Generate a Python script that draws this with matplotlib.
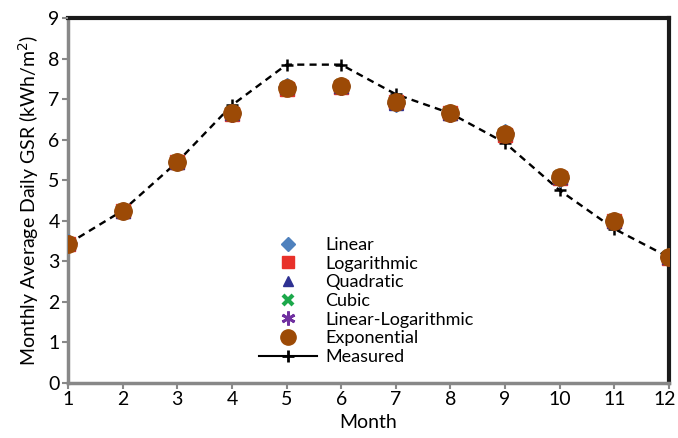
import numpy as np
import matplotlib.pyplot as plt
import matplotlib.transforms as mtransforms
from matplotlib.lines import Line2D

months = np.arange(1, 13)
measured = [3.43, 4.25, 5.45, 6.85, 7.85, 7.85, 7.12, 6.65, 5.92, 4.75, 3.80, 3.10]
linear = [3.44, 4.24, 5.45, 6.66, 7.30, 7.33, 6.90, 6.66, 6.16, 5.06, 3.99, 3.10]
logarithmic = [3.42, 4.25, 5.44, 6.64, 7.24, 7.31, 6.93, 6.65, 6.12, 5.05, 4.00, 3.09]
quadratic = [3.44, 4.24, 5.46, 6.66, 7.30, 7.32, 6.91, 6.66, 6.16, 5.07, 3.99, 3.10]
cubic = [3.43, 4.25, 5.45, 6.65, 7.28, 7.32, 6.92, 6.65, 6.15, 5.07, 4.00, 3.10]
linlog = [3.42, 4.23, 5.45, 6.64, 7.27, 7.30, 6.90, 6.64, 6.14, 5.06, 3.98, 3.09]
exponential = [3.43, 4.25, 5.45, 6.65, 7.27, 7.32, 6.93, 6.65, 6.15, 5.07, 4.00, 3.10]

plt.rcParams['font.family'] = ['Lato', 'DejaVu Sans']

fig = plt.figure(figsize=(6.78, 4.38), dpi=100)
ax = fig.add_axes([0.1003, 0.1256, 0.8864, 0.8333])

ax.plot(months, measured, color='black', ls=(0, (3, 2.2)), lw=1.7,
        marker='+', ms=9, mew=1.8, zorder=2)
ax.plot(months, linear, ls='none', marker='D', ms=9, color='#4F81BD', zorder=3)
ax.plot(months, logarithmic, ls='none', marker='s', ms=10, color='#E8312A', zorder=3)
ax.plot(months, quadratic, ls='none', marker='^', ms=10, color='#2E3192', zorder=3)
ax.plot(months, cubic, ls='none', marker='x', ms=9, mew=3, color='#1BA84A', zorder=3)
ax.plot(months, linlog, ls='none', marker=(6, 2, 0), ms=12, mew=2, color='#7030A0', zorder=3)
ax.plot(months, exponential, ls='none', marker='o', ms=12.5, color='#9C4A06', zorder=4)

handles = [
    Line2D([], [], ls='none', marker='D', ms=7, color='#4F81BD'),
    Line2D([], [], ls='none', marker='s', ms=8, color='#E8312A'),
    Line2D([], [], ls='none', marker='^', ms=7, color='#2E3192'),
    Line2D([], [], ls='none', marker='x', ms=7, mew=3, color='#1BA84A'),
    Line2D([], [], ls='none', marker=(6, 2, 0), ms=10, mew=2, color='#7030A0'),
    Line2D([], [], ls='none', marker='o', ms=11, color='#9C4A06'),
    Line2D([], [], color='black', lw=1.5, marker='+', ms=9, mew=2),
]
labels = ['Linear', 'Logarithmic', 'Quadratic', 'Cubic', 'Linear-Logarithmic',
          'Exponential', 'Measured']
ax.legend(handles, labels, loc='upper left', bbox_to_anchor=(0.303, 0.425),
          frameon=False, fontsize=13, handlelength=3.2, handletextpad=0.45,
          labelspacing=0.15, borderpad=0)

ax.set_xlim(1, 12)
ax.set_ylim(0, 9)
ax.set_xticks(months)
ax.set_yticks(range(10))
ax.tick_params(labelsize=14, length=4, width=1.5, color='#888888', direction='out', pad=2)
ax.set_xlabel('Month', fontsize=14, labelpad=4)
ax.set_ylabel('Monthly Average Daily GSR (kWh/m$^2$)', fontsize=14, labelpad=5)

# nudge the last month label so it stays inside the figure
last = ax.get_xticklabels()[-1]
last.set_transform(last.get_transform() +
                   mtransforms.ScaledTranslation(-3 / 72, 0, fig.dpi_scale_trans))

for s in ['left', 'bottom']:
    ax.spines[s].set_color('#888888')
    ax.spines[s].set_linewidth(2.5)
for s in ['top', 'right']:
    ax.spines[s].set_color('#1a1a1a')
    ax.spines[s].set_linewidth(3)
for sp in ax.spines.values():
    sp.set_zorder(1)

fig.savefig('out.png', dpi=100)
